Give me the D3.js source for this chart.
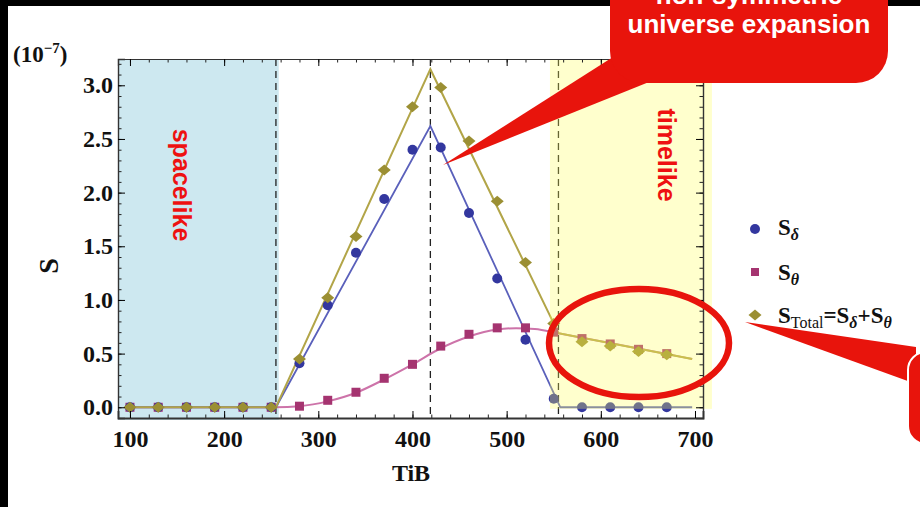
<!DOCTYPE html>
<html>
<head>
<meta charset="utf-8">
<script src="https://cdn.jsdelivr.net/npm/d3@7"></script>
<style>
  html, body { margin: 0; padding: 0; background: #fff; }
  svg { display: block; }
</style>
</head>
<body>
<svg id="chart" width="920" height="507"></svg>
<script>
// ---- sampled points (S in units of 1e-7) ----
const tib    = [100,130,160,190,220,250,280,310,340,370,400,430,460,490,520,550,580,610,640,670];
const sDelta = [0,0,0,0,0,0, 0.41,0.95,1.44,1.94,2.40,2.42,1.81,1.20,0.63,0.08, 0,0,0,0];
const sTheta = [0,0,0,0,0,0, 0.01,0.065,0.14,0.27,0.40,0.57,0.68,0.74,0.74,0.70, 0.64,0.59,0.54,0.50];
const sTotal = [0,0,0,0,0,0, 0.45,1.02,1.59,2.21,2.80,2.98,2.48,1.92,1.35,0.78, 0.61,0.57,0.52,0.49];

// ---- fitted curves ----
const deltaFitX = [100, 255, 419, 557, 697];
const deltaFitY = [0,   0,   2.62, 0,  0];
const totalFitX = [100, 255, 419, 555, 697];
const totalFitY = [0,   0,   3.15, 0.69, 0.45];
const thetaFitX = [100,255,280,310,340,370,400,430,460,490,510,530,555,580,610,640,670,697];
const thetaFitY = [0,0,0.01,0.055,0.135,0.26,0.40,0.55,0.66,0.725,0.737,0.73,0.69,0.648,0.598,0.547,0.496,0.45];

// ---- axes ----
const xTicks = [100,200,300,400,500,600,700];
const yTicks = [0,0.5,1.0,1.5,2.0,2.5,3.0];
const xMinor = d3.range(100, 701, 20);
const yMinor = d3.range(-1, 33).map(i => i / 10);

// region boundaries and peak position (TiB)
const spacelikeEdge = 255;
const peakTiB = 419;
const timelikeEdge = 555;

const legendLabels = ["δ", "θ", "Total"];

const svg = d3.select("#chart");
const L = 118, R = 703, T = 59, B = 418;
const x = d3.scaleLinear().domain([87.3, 708.5]).range([L, R]);
const y = d3.scaleLinear().domain([-0.1, 3.245]).range([B, T]);

const colDelta = "#33379f", colDeltaLine = "#5a60bb";
const colTheta = "#a53470", colThetaLine = "#cd73a9";
const colTotal = "#9b8f33", colTotalLine = "#b2a548";
const red = "#e8140c";

// page frame
svg.append("rect").attr("x", 0).attr("y", 0).attr("width", 920).attr("height", 507).attr("fill", "#fff");
svg.append("rect").attr("x", 0).attr("y", 0).attr("width", 920).attr("height", 6).attr("fill", "#000");
svg.append("rect").attr("x", 0).attr("y", 0).attr("width", 8).attr("height", 507).attr("fill", "#000");

// spacelike band
svg.append("rect")
  .attr("x", L).attr("y", T)
  .attr("width", x(258) - L).attr("height", B - T + 2)
  .attr("fill", "#cde8f0");

// dashed markers
[spacelikeEdge, peakTiB, timelikeEdge].forEach(v => {
  svg.append("line")
    .attr("x1", x(v)).attr("x2", x(v)).attr("y1", T).attr("y2", B)
    .attr("stroke", "#222").attr("stroke-width", 1.3)
    .attr("stroke-dasharray", "7,5");
});

// fitted lines
const pairs = (xs, ys) => xs.map((v, i) => [v, ys[i]]);
const line = d3.line().x(d => x(d[0])).y(d => y(d[1]));
const smooth = d3.line().x(d => x(d[0])).y(d => y(d[1])).curve(d3.curveMonotoneX);

svg.append("path").datum(pairs(thetaFitX, thetaFitY)).attr("d", smooth)
  .attr("fill", "none").attr("stroke", colThetaLine).attr("stroke-width", 2);
svg.append("path").datum(pairs(deltaFitX, deltaFitY)).attr("d", line)
  .attr("fill", "none").attr("stroke", colDeltaLine).attr("stroke-width", 1.8);
svg.append("path").datum(pairs(totalFitX, totalFitY)).attr("d", line)
  .attr("fill", "none").attr("stroke", colTotalLine).attr("stroke-width", 2);

// point markers
const diamond = "M0,-5.5L6.5,0L0,5.5L-6.5,0Z";

svg.append("g").selectAll("rect").data(tib).join("rect")
  .attr("x", d => x(d) - 4.5).attr("y", (d, i) => y(sTheta[i]) - 4.5)
  .attr("width", 9).attr("height", 9).attr("fill", colTheta);
svg.append("g").selectAll("circle").data(tib).join("circle")
  .attr("cx", d => x(d)).attr("cy", (d, i) => y(sDelta[i]))
  .attr("r", 5).attr("fill", colDelta);
svg.append("g").selectAll("path").data(tib).join("path")
  .attr("d", diamond)
  .attr("transform", (d, i) => `translate(${x(d)},${y(sTotal[i])})`)
  .attr("fill", colTotal);

// timelike band (translucent, over the points)
svg.append("rect")
  .attr("x", x(546)).attr("y", T + 1)
  .attr("width", x(718) - x(546)).attr("height", y(-0.015) - T - 1)
  .attr("fill", "#ffff5a").attr("opacity", 0.3);

// axes
const axisFont = g => g.selectAll("text")
  .attr("font-family", "'Liberation Serif', 'Times New Roman', serif")
  .attr("font-weight", "bold").attr("font-size", 24).attr("fill", "#111");
const clean = g => { g.select(".domain").remove(); g.selectAll("line").attr("stroke", "#222"); };

svg.append("g").attr("transform", `translate(0,${B})`)
  .call(d3.axisBottom(x).tickValues(xMinor).tickSize(-3.5).tickFormat("")).call(clean);
svg.append("g").attr("transform", `translate(0,${T})`)
  .call(d3.axisTop(x).tickValues(xMinor).tickSize(-3.5).tickFormat("")).call(clean);
svg.append("g").attr("transform", `translate(${L},0)`)
  .call(d3.axisLeft(y).tickValues(yMinor).tickSize(-3.5).tickFormat("")).call(clean);
svg.append("g").attr("transform", `translate(${R},0)`)
  .call(d3.axisRight(y).tickValues(yMinor).tickSize(-3.5).tickFormat("")).call(clean);

const gx = svg.append("g").attr("transform", `translate(0,${B})`)
  .call(d3.axisBottom(x).tickValues(xTicks).tickSize(-7).tickPadding(12).tickFormat(d3.format("d")));
gx.select(".domain").attr("stroke", "#333").attr("stroke-width", 1.8);
gx.call(axisFont);

svg.append("g").attr("transform", `translate(0,${T})`)
  .call(d3.axisTop(x).tickValues(xTicks).tickSize(-7).tickFormat(""))
  .select(".domain").attr("stroke", "#333").attr("stroke-width", 1.2);

const gy = svg.append("g").attr("transform", `translate(${L},0)`)
  .call(d3.axisLeft(y).tickValues(yTicks).tickSize(-7).tickPadding(5).tickFormat(d3.format(".1f")));
gy.select(".domain").attr("stroke", "#333").attr("stroke-width", 1.4);
gy.call(axisFont);

svg.append("g").attr("transform", `translate(${R},0)`)
  .call(d3.axisRight(y).tickValues(yTicks).tickSize(-7).tickFormat(""))
  .select(".domain").attr("stroke", "#333").attr("stroke-width", 1.4);

// axis titles
const serif = "'Liberation Serif', 'Times New Roman', serif";
svg.append("text").attr("x", 411).attr("y", 481).attr("text-anchor", "middle")
  .attr("font-family", serif).attr("font-weight", "bold").attr("font-size", 24).attr("fill", "#111")
  .text("TiB");
svg.append("text").attr("transform", "translate(58,266) rotate(-90)").attr("text-anchor", "middle")
  .attr("font-family", serif).attr("font-weight", "bold").attr("font-size", 28).attr("fill", "#111")
  .text("S");
const unit = svg.append("text").attr("x", 13).attr("y", 62)
  .attr("font-family", serif).attr("font-weight", "bold").attr("font-size", 23).attr("fill", "#111");
unit.append("tspan").text("(10");
unit.append("tspan").attr("dy", -9).attr("font-size", 15).text("−7");
unit.append("tspan").attr("dy", 9).text(")");

// region labels
const sans = "'Liberation Sans', Arial, sans-serif";
svg.append("text").attr("transform", "translate(173,185) rotate(90)").attr("text-anchor", "middle")
  .attr("font-family", sans).attr("font-weight", "bold").attr("font-size", 25).attr("fill", "#ee1111")
  .text("spacelike");
svg.append("text").attr("transform", "translate(658,155) rotate(90)").attr("text-anchor", "middle")
  .attr("font-family", sans).attr("font-weight", "bold").attr("font-size", 25).attr("fill", "#ee1111")
  .text("timelike");

// legend
const lg = svg.append("g");
lg.append("circle").attr("cx", 755).attr("cy", 229).attr("r", 5).attr("fill", colDelta);
lg.append("rect").attr("x", 751).attr("y", 268).attr("width", 8).attr("height", 8).attr("fill", colTheta);
lg.append("path").attr("d", diamond).attr("transform", "translate(755,315)").attr("fill", colTotal);

function legendText(yPos, parts) {
  const t = lg.append("text").attr("x", 778).attr("y", yPos)
    .attr("font-family", serif).attr("font-size", 23).attr("font-weight", "bold").attr("fill", "#111");
  let shift = 0;
  parts.forEach(p => {
    const sp = t.append("tspan").text(p.s);
    const want = p.sub ? 5 : 0;
    if (want !== shift) { sp.attr("dy", want - shift); shift = want; }
    if (p.sub) sp.attr("font-size", 16);
    if (p.it) sp.attr("font-style", "italic");
    if (p.reg) sp.attr("font-weight", "normal");
  });
}
legendText(235, [{s: "S"}, {s: legendLabels[0], sub: true, it: true}]);
legendText(280, [{s: "S"}, {s: legendLabels[1], sub: true, it: true}]);
legendText(323, [{s: "S"}, {s: legendLabels[2], sub: true, reg: true}, {s: "=S"},
  {s: legendLabels[0], sub: true, it: true}, {s: "+S"}, {s: legendLabels[1], sub: true, it: true}]);

// highlight ellipse around the timelike total
svg.append("ellipse").attr("cx", 639).attr("cy", 343).attr("rx", 90).attr("ry", 54)
  .attr("fill", "none").attr("stroke", red).attr("stroke-width", 6.5);

// callout: top
const call = svg.append("g");
call.append("path").attr("d", "M443,165L624,50L654,80Z").attr("fill", red);
call.append("rect").attr("x", 610).attr("y", -40).attr("width", 278).attr("height", 123).attr("rx", 32)
  .attr("fill", red);
call.append("text").attr("x", 749).attr("y", 4).attr("text-anchor", "middle")
  .attr("font-family", sans).attr("font-weight", "bold").attr("font-size", 26).attr("fill", "#fff")
  .text("non-symmetric");
call.append("text").attr("x", 749).attr("y", 33).attr("text-anchor", "middle")
  .attr("font-family", sans).attr("font-weight", "bold").attr("font-size", 26).attr("fill", "#fff")
  .text("universe expansion");

// callout: right
const call2 = svg.append("g");
call2.append("path").attr("d", "M745,322L916,347L916,384Z").attr("fill", red);
call2.append("rect").attr("x", 908).attr("y", 352).attr("width", 60).attr("height", 92).attr("rx", 18)
  .attr("fill", red).attr("stroke", "#fff").attr("stroke-width", 2);
</script>
</body>
</html>
